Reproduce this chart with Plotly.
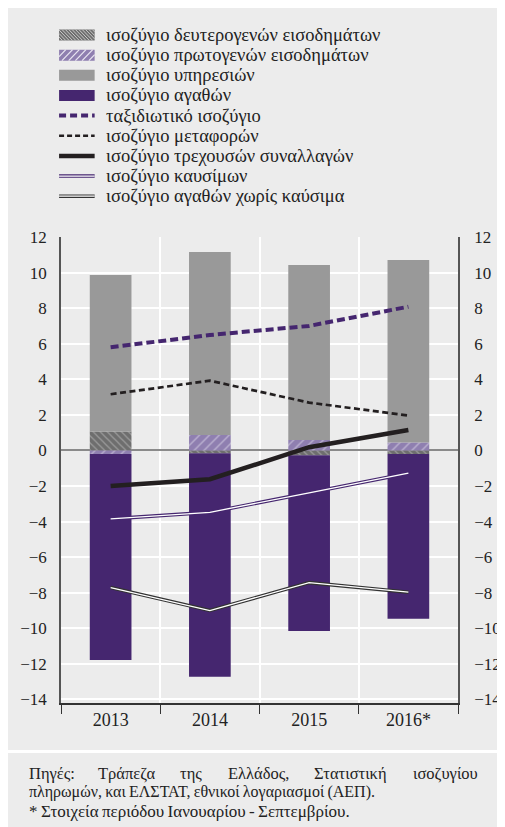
import plotly.graph_objects as go

# ---------------- data ----------------
years = ["2013", "2014", "2015", "2016*"]
secondary_income = [1.06, -0.16, -0.27, -0.20]
primary_income = [-0.20, 0.87, 0.59, 0.44]
services = [8.80, 10.29, 9.84, 10.27]
goods = [-11.58, -12.57, -9.88, -9.27]
travel = [5.80, 6.49, 7.00, 8.08]
transport = [3.16, 3.92, 2.69, 1.96]
current_account = [-2.00, -1.62, 0.18, 1.15]
fuels = [-3.85, -3.48, -2.38, -1.28]
goods_ex_fuel = [-7.71, -9.00, -7.43, -7.97]
y_ticks = list(range(-14, 13, 2))

legend_labels = [
    "ισοζύγιο δευτερογενών εισοδημάτων",
    "ισοζύγιο πρωτογενών εισοδημάτων",
    "ισοζύγιο υπηρεσιών",
    "ισοζύγιο αγαθών",
    "ταξιδιωτικό ισοζύγιο",
    "ισοζύγιο μεταφορών",
    "ισοζύγιο τρεχουσών συναλλαγών",
    "ισοζύγιο καυσίμων",
    "ισοζύγιο αγαθών χωρίς καύσιμα",
]

# ---------------- styling ----------------
OFF = 8  # page body margin
W, H = 505, 827
ML, MR, MT, MB = 51, 41, 229, 132
PW, PH = W - ML - MR, H - MT - MB
BG = "#ececec"
PURPLE = "#45266f"
LPURPLE = "#8f7fb0"
DGRAY = "#6e6e6e"
SGRAY = "#999999"
BLACK = "#231f20"
FONT = "Liberation Serif"
TXT = "#222222"


def px(x):  # page pixel -> paper
    return (x - OFF - ML) / PW


def py(y):
    return 1 - (y - OFF - MT) / PH


fig = go.Figure()

fig.add_bar(x=years, y=secondary_income, name=legend_labels[0], width=0.42,
            marker=dict(color=DGRAY, line=dict(width=0),
                        pattern=dict(shape="\\", fgcolor="#c8c8c8", size=5, solidity=0.25)))
fig.add_bar(x=years, y=primary_income, name=legend_labels[1], width=0.42,
            marker=dict(color=LPURPLE, line=dict(width=0),
                        pattern=dict(shape="/", fgcolor="#e8e4f0", size=7, solidity=0.2)))
fig.add_bar(x=years, y=services, name=legend_labels[2], width=0.42,
            marker=dict(color=SGRAY, line=dict(width=0)))
fig.add_bar(x=years, y=goods, name=legend_labels[3], width=0.42,
            marker=dict(color=PURPLE, line=dict(width=0)))

fig.add_scatter(x=years, y=travel, mode="lines", name=legend_labels[4],
                line=dict(color=PURPLE, width=4, dash="8px,4px"))
fig.add_scatter(x=years, y=transport, mode="lines", name=legend_labels[5],
                line=dict(color=BLACK, width=2.7, dash="6px,3.5px"))
fig.add_scatter(x=years, y=current_account, mode="lines", name=legend_labels[6],
                line=dict(color=BLACK, width=4.5))
fig.add_scatter(x=years, y=fuels, mode="lines", name=legend_labels[7],
                line=dict(color=PURPLE, width=3.6))
fig.add_scatter(x=years, y=fuels, mode="lines", showlegend=False, hoverinfo="skip",
                line=dict(color="white", width=1.3))
fig.add_scatter(x=years, y=goods_ex_fuel, mode="lines", name=legend_labels[8],
                line=dict(color="#333333", width=3.6))
fig.add_scatter(x=years, y=goods_ex_fuel, mode="lines", showlegend=False, hoverinfo="skip",
                line=dict(color="white", width=1.3))
# invisible trace to bind the right axis
fig.add_scatter(x=years, y=current_account, yaxis="y2", mode="lines", showlegend=False,
                hoverinfo="skip", line=dict(color="rgba(0,0,0,0)", width=0))

shapes = []
annotations = []

# white separator above the source note
shapes.append(dict(type="rect", xref="paper", yref="paper", x0=px(0), x1=px(W + OFF), y0=py(753), y1=py(750),
                   fillcolor="white", line=dict(width=0), layer="below"))

# ---------------- manual legend ----------------
LX0, LX1 = 57, 94
row_y = [35 + 20.15 * i for i in range(len(legend_labels))]


def hatch_path(x0, x1, yc, h, direction, step):
    yt, yb = yc - h / 2, yc + h / 2
    segs = []
    c = x0 - h
    while c < x1:
        t0 = max(0, x0 - c)
        t1 = min(h, x1 - c)
        if t1 > t0:
            if direction == "/":
                a = (c + t0, yb - t0)
                b = (c + t1, yb - t1)
            else:
                a = (c + t0, yt + t0)
                b = (c + t1, yt + t1)
            segs.append("M%.5f,%.5f L%.5f,%.5f" % (px(a[0]), py(a[1]), px(b[0]), py(b[1])))
        c += step
    return " ".join(segs)


def rect_icon(yc, color):
    shapes.append(dict(type="rect", xref="paper", yref="paper", x0=px(LX0), x1=px(LX1),
                       y0=py(yc + 5.5), y1=py(yc - 5.5), fillcolor=color, line=dict(width=0)))


rect_icon(row_y[0], DGRAY)
shapes.append(dict(type="path", xref="paper", yref="paper",
                   path=hatch_path(LX0, LX1, row_y[0], 11, "\\", 3.5),
                   line=dict(color="#c8c8c8", width=1)))
rect_icon(row_y[1], LPURPLE)
shapes.append(dict(type="path", xref="paper", yref="paper",
                   path=hatch_path(LX0, LX1, row_y[1], 11, "/", 7),
                   line=dict(color="#e8e4f0", width=1.3)))
rect_icon(row_y[2], SGRAY)
rect_icon(row_y[3], PURPLE)


def line_icon(yc, color, width, dash="solid"):
    shapes.append(dict(type="line", xref="paper", yref="paper", x0=px(LX0), x1=px(LX1),
                       y0=py(yc), y1=py(yc), line=dict(color=color, width=width, dash=dash)))


line_icon(row_y[4], PURPLE, 4, "7px,4px")
line_icon(row_y[5], BLACK, 2.7, "5px,3px")
line_icon(row_y[6], BLACK, 4.5)
line_icon(row_y[7], PURPLE, 3.6)
line_icon(row_y[7], "white", 1.3)
line_icon(row_y[8], "#333333", 3.6)
line_icon(row_y[8], "white", 1.3)

for lab, yc in zip(legend_labels, row_y):
    annotations.append(dict(text=lab, xref="paper", yref="paper", x=px(104), y=py(yc),
                            xanchor="left", yanchor="middle", showarrow=False,
                            font=dict(family=FONT, size=18.5, color=TXT)))

# ---------------- footnote ----------------
note_font = dict(family=FONT, size=16.5, color=TXT)
line1_words = [("Πηγές:", 24, "left"), ("Τράπεζα", 127, "center"), ("της", 194, "center"),
               ("Ελλάδος,", 264, "center"), ("Στατιστική", 360, "center"),
               ("ισοζυγίου", 495, "right")]
for w, xw, anc in line1_words:
    annotations.append(dict(text=w, xref="paper", yref="paper", x=px(xw), y=py(773),
                            xanchor=anc, yanchor="middle", showarrow=False, font=note_font))
annotations.append(dict(text="πληρωμών,\u2009και\u2009ΕΛΣΤΑΤ,\u2009εθνικοί\u2009λογαριασμοί\u2009(ΑΕΠ).",
                        xref="paper", yref="paper", x=px(24), y=py(792),
                        xanchor="left", yanchor="middle", showarrow=False,
                        font=dict(family=FONT, size=16, color=TXT)))
annotations.append(dict(text="*\u2009Στοιχεία\u2009περιόδου\u2009Ιανουαρίου\u2009-\u2009Σεπτεμβρίου.",
                        xref="paper", yref="paper", x=px(24), y=py(811),
                        xanchor="left", yanchor="middle", showarrow=False,
                        font=dict(family=FONT, size=17, color=TXT)))

yrange = [-14.2, 12]
fig.update_layout(
    width=W, height=H,
    margin=dict(l=ML, r=MR, t=MT, b=MB, pad=0),
    paper_bgcolor=BG, plot_bgcolor=BG,
    barmode="relative", bargap=0.58,
    showlegend=False,
    font=dict(family=FONT, size=17, color=TXT),
    xaxis=dict(type="category", tickson="boundaries", ticks="outside", ticklen=9,
               tickcolor="#333333", tickwidth=1.3, showgrid=True, gridcolor="white", gridwidth=2,
               showline=True, linecolor="#333333", linewidth=1.5,
               tickfont=dict(family=FONT, size=18, color=TXT), range=[-0.5, 3.5]),
    yaxis=dict(range=yrange, tickvals=y_ticks, showgrid=True, gridcolor="white", gridwidth=1.5,
               zeroline=True, zerolinecolor="#8a8a8a", zerolinewidth=1.5,
               showline=True, linecolor="#555555", linewidth=1.5, ticks="",
               ticklabelstandoff=9, tickfont=dict(family=FONT, size=17, color=TXT)),
    yaxis2=dict(range=yrange, tickvals=y_ticks, overlaying="y", side="right", showgrid=False,
                zeroline=False, showline=True, linecolor="#555555", linewidth=1.5, ticks="",
                ticklabelstandoff=11, tickfont=dict(family=FONT, size=17, color=TXT)),
    shapes=shapes,
    annotations=annotations,
)

fig.write_html("out.html")
